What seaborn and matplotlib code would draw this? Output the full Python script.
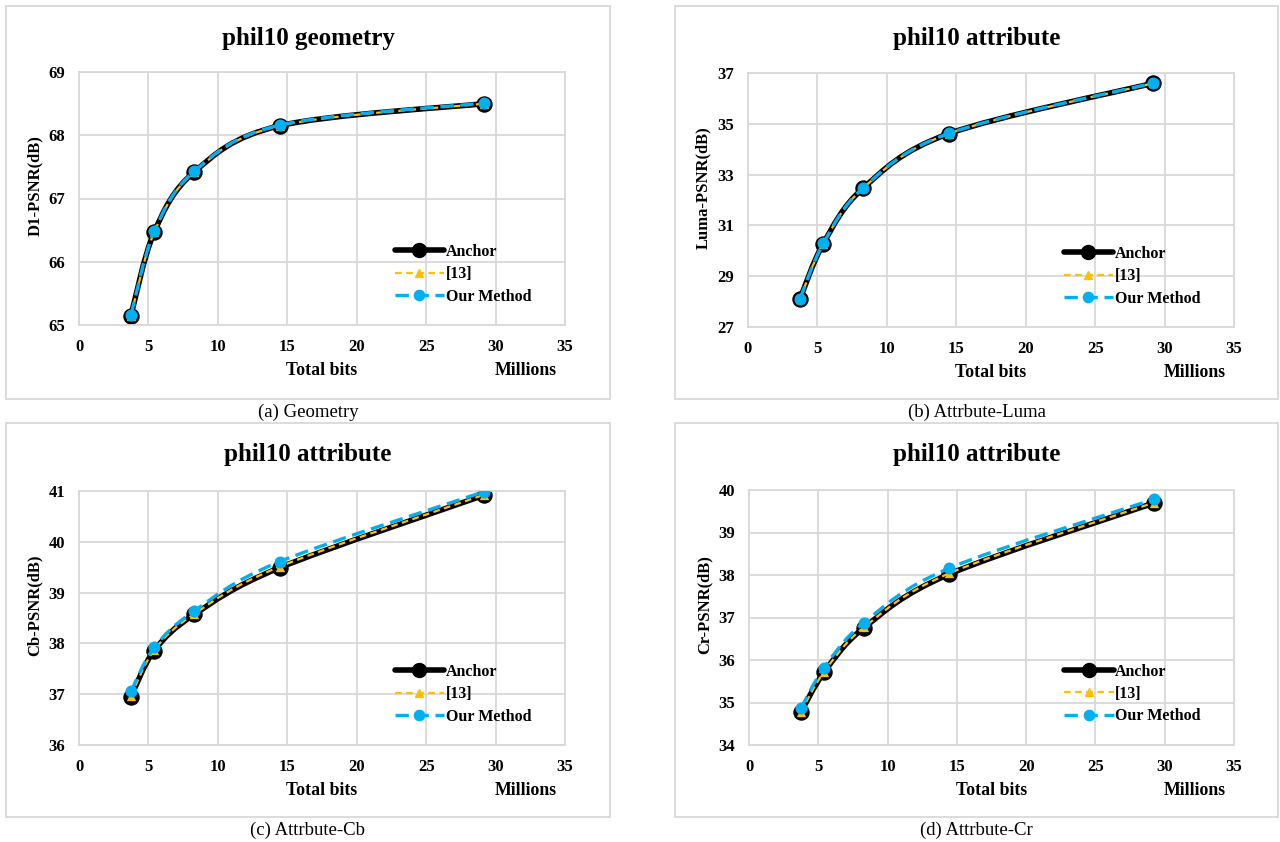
import matplotlib

matplotlib.use("Agg")
import matplotlib.pyplot as plt
import numpy as np
import seaborn as sns
from matplotlib.lines import Line2D
from matplotlib.patches import PathPatch, Rectangle
from matplotlib.path import Path

# total bits (millions) for the five rate points
bits = [3.74, 5.42, 8.30, 14.45, 29.2]

geo_anchor = [65.15, 66.47, 67.42, 68.15, 68.50]
geo_ref13 = [65.15, 66.47, 67.42, 68.15, 68.50]
geo_ours = [65.16, 66.48, 67.43, 68.16, 68.51]

luma_anchor = [28.10, 30.28, 32.47, 34.61, 36.60]
luma_ref13 = [28.10, 30.28, 32.47, 34.61, 36.60]
luma_ours = [28.11, 30.29, 32.48, 34.62, 36.61]

cb_anchor = [36.95, 37.86, 38.57, 39.49, 40.92]
cb_ref13 = [36.97, 37.87, 38.58, 39.51, 40.93]
cb_ours = [37.06, 37.92, 38.64, 39.61, 40.99]

cr_anchor = [34.77, 35.71, 36.76, 38.02, 39.69]
cr_ref13 = [34.78, 35.72, 36.77, 38.04, 39.70]
cr_ours = [34.86, 35.82, 36.88, 38.16, 39.78]

titles = ["phil10 geometry", "phil10 attribute", "phil10 attribute", "phil10 attribute"]
ylabels = ["D1-PSNR(dB)", "Luma-PSNR(dB)", "Cb-PSNR(dB)", "Cr-PSNR(dB)"]
captions = ["(a) Geometry", "(b) Attrbute-Luma", "(c) Attrbute-Cb", "(d) Attrbute-Cr"]
yticks = [range(65, 70), range(27, 38, 2), range(36, 42), range(34, 41)]
series_names = ["Anchor", "[13]", "Our Method"]
panel_data = [
    (geo_anchor, geo_ref13, geo_ours),
    (luma_anchor, luma_ref13, luma_ours),
    (cb_anchor, cb_ref13, cb_ours),
    (cr_anchor, cr_ref13, cr_ours),
]

W, H = 1280, 842
# pixel layout: chart box (x0, y0, x1, y1) and plot area (left, top, right, bottom)
boxes = [(6, 6, 610, 399), (675, 6, 1278, 399), (6, 423, 610, 817), (675, 423, 1278, 817)]
areas = [(79, 72, 565, 325), (748, 73, 1234, 327), (79, 491, 565, 745), (749, 490, 1234, 745)]

styles = [
    dict(color="black", lw=4.0, ls="-", marker="o", s=140, z=2),
    dict(color="#FFC000", lw=1.6, ls=(0, (3, 2)), marker="^", s=45, z=3),
    dict(color="#00B0F0", lw=2.4, ls=(0, (4, 2)), marker="o", s=75, z=4),
]


def smooth_path(x, y):
    pts = np.column_stack([x, y])
    ext = np.vstack([pts[0], pts, pts[-1]])
    verts = [pts[0]]
    codes = [Path.MOVETO]
    for i in range(len(pts) - 1):
        p0, p1, p2, p3 = ext[i], ext[i + 1], ext[i + 2], ext[i + 3]
        verts += [p1 + (p2 - p0) / 6, p2 - (p3 - p1) / 6, p2]
        codes += [Path.CURVE4] * 3
    return Path(verts, codes)


sns.set_theme(style="white")
plt.rcParams["font.family"] = ["Liberation Serif", "DejaVu Serif"]
plt.rcParams.update({"text.color": "black", "axes.labelcolor": "black",
                     "xtick.color": "black", "ytick.color": "black"})

fig = plt.figure(figsize=(W / 100, H / 100), dpi=100)
grid_col = "#D9D9D9"

for k in range(4):
    bx0, by0, bx1, by1 = boxes[k]
    fig.patches.append(Rectangle((bx0 / W, 1 - by1 / H), (bx1 - bx0) / W, (by1 - by0) / H,
                                 transform=fig.transFigure, fill=False, edgecolor=grid_col, lw=1.3))
    l, t, r, b = areas[k]
    ax = fig.add_axes([l / W, 1 - b / H, (r - l) / W, (b - t) / H])
    ax.set_facecolor("white")

    for name, vals, st in zip(series_names, panel_data[k], styles):
        ax.add_patch(PathPatch(smooth_path(bits, vals), fill=False, edgecolor=st["color"],
                               lw=st["lw"], linestyle=st["ls"], zorder=st["z"], capstyle="butt"))
        sns.scatterplot(x=bits, y=vals, marker=st["marker"], s=st["s"], color=st["color"],
                        edgecolor=st["color"], linewidth=0, ax=ax, zorder=st["z"] + 0.5)

    yt = list(yticks[k])
    ax.set_xlim(0, 35)
    ax.set_ylim(yt[0], yt[-1])
    ax.set_xticks(range(0, 36, 5))
    ax.set_yticks(yt)
    ax.grid(True, color=grid_col, lw=1.3)
    for sp in ax.spines.values():
        sp.set_color(grid_col)
        sp.set_linewidth(1.3)
    ax.tick_params(axis="y", length=0, pad=10, labelsize=12)
    ax.tick_params(axis="x", length=0, pad=10, labelsize=12)
    for lab in ax.get_xticklabels() + ax.get_yticklabels():
        lab.set_fontweight("bold")

    ax.set_xlabel("")
    ax.set_ylabel(ylabels[k], fontsize=12, fontweight="bold")
    ax.yaxis.set_label_coords(-0.075, 0.55)
    ax.text(0.5, -0.18, "Total bits", transform=ax.transAxes, ha="center", va="center",
            fontsize=12.8, fontweight="bold")
    ax.text(0.983, -0.18, "Millions", transform=ax.transAxes, ha="right", va="center",
            fontsize=12.8, fontweight="bold")

    handles = [Line2D([], [], color=st["color"], lw=st["lw"], ls=st["ls"], marker=st["marker"],
                      markersize=np.sqrt(st["s"]) * 0.85) for st in styles]
    ax.legend(handles, series_names, loc="center left", bbox_to_anchor=(0.62, 0.2), frameon=False,
              prop=dict(weight="bold", size=11.5), handlelength=3.1, handletextpad=0.1,
              labelspacing=0.4)

    cx = (bx0 + bx1) / 2 / W
    fig.text(cx, 1 - (by0 + 32) / H, titles[k], ha="center", va="center", fontsize=18,
             fontweight="bold")
    fig.text(cx, 1 - (by1 + 13) / H, captions[k], ha="center", va="center", fontsize=13.5)

fig.savefig("out.png", dpi=100, facecolor="white")
